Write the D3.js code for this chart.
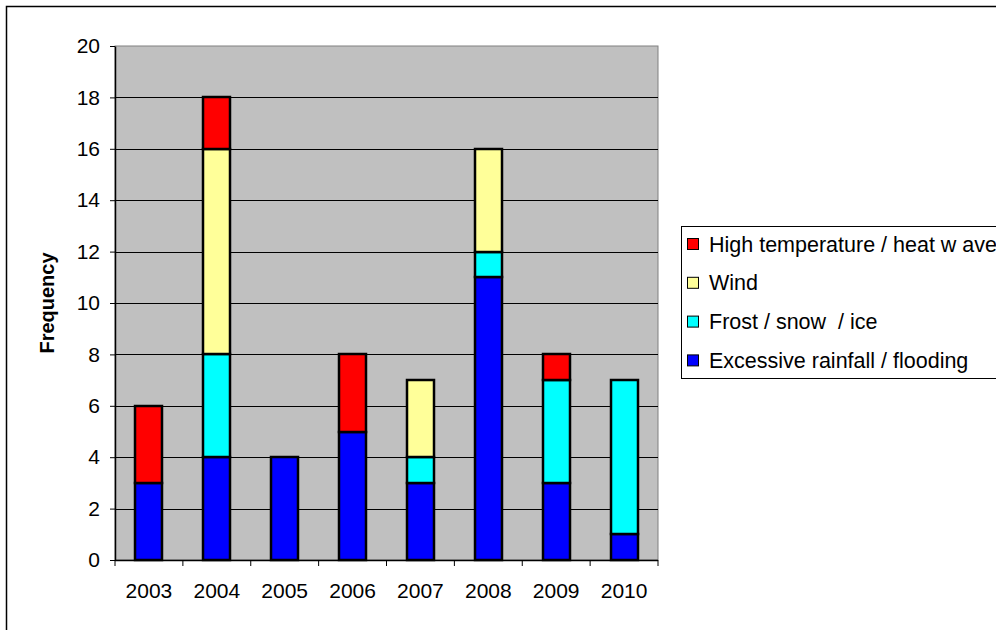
<!DOCTYPE html>
<html>
<head>
<meta charset="utf-8">
<script src="https://cdn.jsdelivr.net/npm/d3@7"></script>
<style>
  html, body { margin: 0; padding: 0; background: #fff; }
  svg { display: block; font-family: "Liberation Sans", Arial, sans-serif; }
</style>
</head>
<body>
<svg id="chart" width="996" height="630"></svg>
<script>
// Weather events recorded per year, stacked by type
const years = ["2003", "2004", "2005", "2006", "2007", "2008", "2009", "2010"];
const rainfall = [3, 4, 4, 5, 3, 11, 3, 1];
const frost    = [0, 4, 0, 0, 1, 1, 4, 6];
const wind     = [0, 8, 0, 0, 3, 4, 0, 0];
const heat     = [3, 2, 0, 3, 0, 0, 1, 0];
const yTicks   = [0, 2, 4, 6, 8, 10, 12, 14, 16, 18, 20];

const seriesNames = ["Excessive rainfall / flooding", "Frost / snow  / ice", "Wind", "High temperature / heat w ave"];
const seriesColors = ["#0000FF", "#00FFFF", "#FFFF99", "#FF0000"];
const seriesKeys = ["rainfall", "frost", "wind", "heat"];

const rows = years.map((y, i) => ({
  year: y, rainfall: rainfall[i], frost: frost[i], wind: wind[i], heat: heat[i]
}));

const svg = d3.select("#chart");
const plot = { left: 115, right: 658, top: 46, bottom: 560 };

// Outer chart border
svg.append("rect")
  .attr("x", 6.5).attr("y", 6.5).attr("width", 1000).attr("height", 640)
  .attr("fill", "#fff").attr("stroke", "#000").attr("stroke-width", 1.5);

const x = d3.scaleBand().domain(years).range([plot.left, plot.right]).padding(0);
const y = d3.scaleLinear().domain([0, 20]).range([plot.bottom, plot.top]);

// Plot area background
svg.append("rect")
  .attr("x", plot.left).attr("y", plot.top)
  .attr("width", plot.right - plot.left).attr("height", plot.bottom - plot.top)
  .attr("fill", "#C0C0C0").attr("stroke", "#808080").attr("stroke-width", 1);

// Horizontal gridlines
svg.append("g").selectAll("line")
  .data(yTicks.filter(t => t > 0 && t < 20))
  .join("line")
  .attr("x1", plot.left).attr("x2", plot.right)
  .attr("y1", d => Math.round(y(d)) + 0.5).attr("y2", d => Math.round(y(d)) + 0.5)
  .attr("stroke", "#000").attr("stroke-width", 1);

// Stacked bars
const stack = d3.stack().keys(seriesKeys)(rows);
const barW = Math.round(x.bandwidth() / 2.5);
svg.append("g").selectAll("g")
  .data(stack)
  .join("g")
  .attr("fill", (d, i) => seriesColors[i])
  .selectAll("rect")
  .data(d => d.filter(s => s[1] - s[0] > 0))
  .join("rect")
  .attr("x", d => Math.round(x(d.data.year) + (x.bandwidth() - barW) / 2))
  .attr("y", d => Math.round(y(d[1])))
  .attr("width", barW)
  .attr("height", d => Math.round(y(d[0])) - Math.round(y(d[1])))
  .attr("stroke", "#000").attr("stroke-width", 2.5);

// Y axis
const yAxis = svg.append("g")
  .attr("transform", `translate(${plot.left},0)`)
  .call(d3.axisLeft(y).tickValues(yTicks).tickSize(5).tickPadding(10).tickSizeOuter(0));
yAxis.select(".domain").attr("stroke", "#000").attr("stroke-width", 1.5);
yAxis.selectAll(".tick line").attr("stroke", "#000");
yAxis.selectAll(".tick text").attr("font-size", 21).attr("fill", "#000")
  .attr("font-family", "Liberation Sans, Arial, sans-serif");

// X axis with ticks at category boundaries
const xAxisG = svg.append("g").attr("transform", `translate(0,${plot.bottom})`);
xAxisG.append("line")
  .attr("x1", plot.left).attr("x2", plot.right).attr("y1", 0.5).attr("y2", 0.5)
  .attr("stroke", "#000").attr("stroke-width", 1.5);
const bounds = years.map(d => x(d)).concat([plot.right]);
xAxisG.selectAll("line.tk")
  .data(bounds)
  .join("line").attr("class", "tk")
  .attr("x1", d => d).attr("x2", d => d).attr("y1", 0).attr("y2", 6)
  .attr("stroke", "#000");
xAxisG.selectAll("text")
  .data(years)
  .join("text")
  .attr("x", d => x(d) + x.bandwidth() / 2)
  .attr("y", 38)
  .attr("text-anchor", "middle")
  .attr("font-size", 21)
  .text(d => d);

// Y axis title
svg.append("text")
  .attr("transform", "translate(54,303) rotate(-90)")
  .attr("text-anchor", "middle")
  .attr("font-size", 20).attr("font-weight", "bold")
  .text("Frequency");

// Legend (top entry is the top of the stack)
const legend = svg.append("g");
legend.append("rect")
  .attr("x", 681.5).attr("y", 226.5).attr("width", 330).attr("height", 152)
  .attr("fill", "#fff").attr("stroke", "#000").attr("stroke-width", 1);
const legendOrder = [3, 2, 1, 0];
const item = legend.selectAll("g.item")
  .data(legendOrder)
  .join("g").attr("class", "item")
  .attr("transform", (d, i) => `translate(0,${244 + i * 38.8})`);
item.append("rect")
  .attr("x", 687.5).attr("y", -5.5).attr("width", 11).attr("height", 11)
  .attr("fill", d => seriesColors[d]).attr("stroke", "#000").attr("stroke-width", 1);
item.append("text")
  .attr("x", 709).attr("y", 7.5)
  .attr("font-size", 21.5)
  .attr("xml:space", "preserve")
  .style("white-space", "pre")
  .text(d => seriesNames[d]);
</script>
</body>
</html>
